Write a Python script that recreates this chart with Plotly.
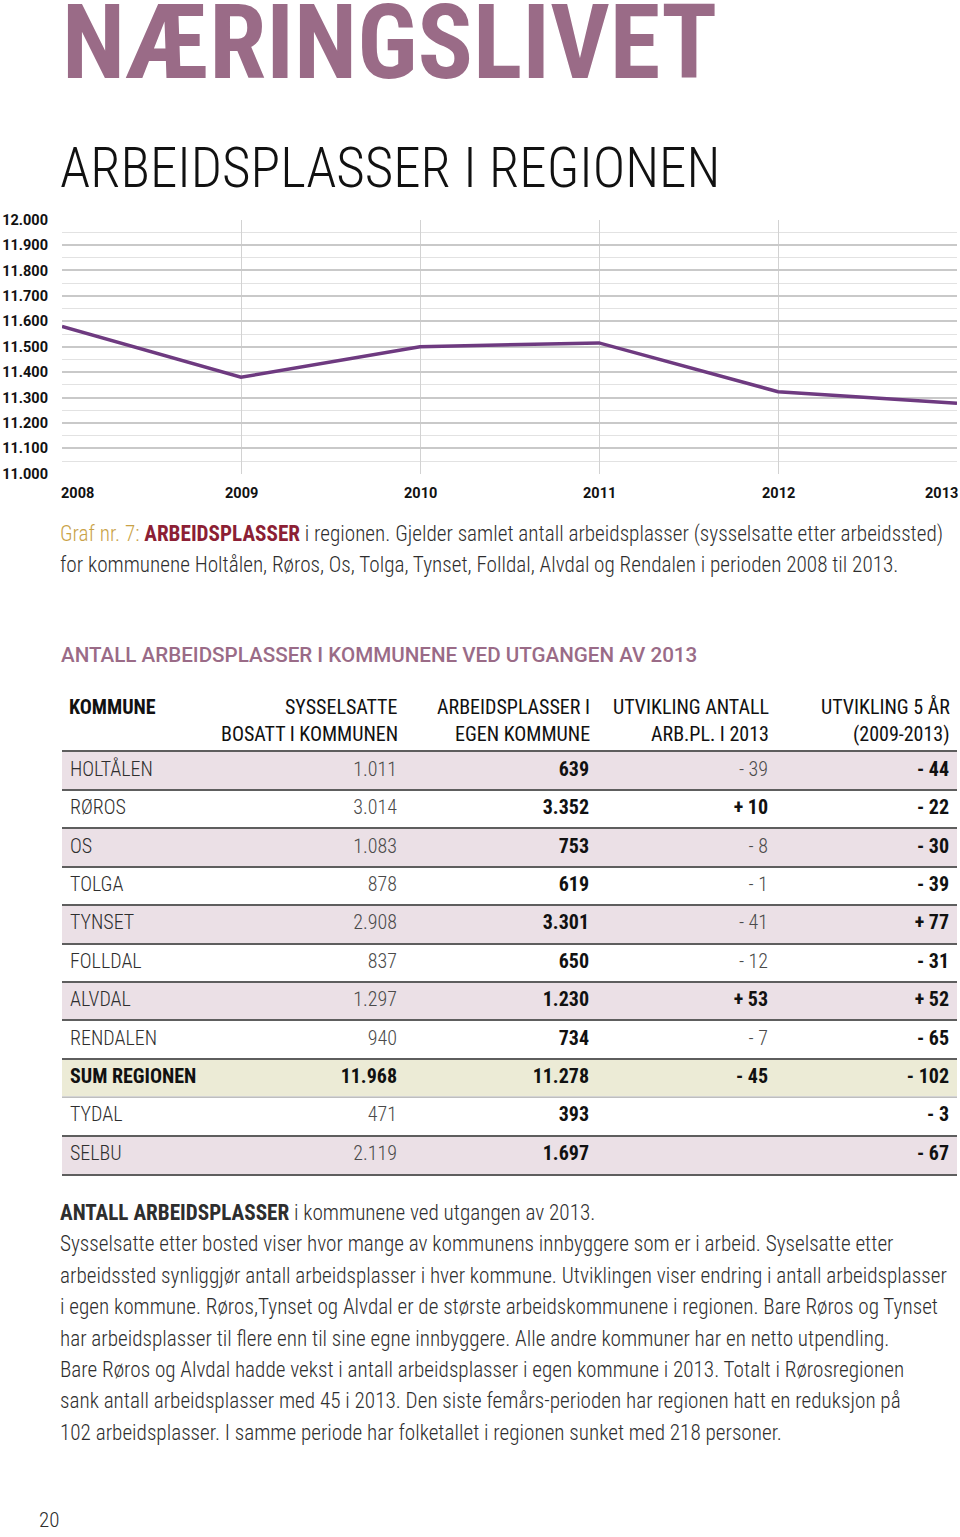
import plotly.graph_objects as go

# ---------------- data ----------------
years = [2008, 2009, 2010, 2011, 2012, 2013]
jobs_region = [11580, 11380, 11500, 11515, 11323, 11278]
y_ticks = [11000, 11100, 11200, 11300, 11400, 11500, 11600, 11700, 11800, 11900, 12000]

kommuner = ["HOLTÅLEN", "RØROS", "OS", "TOLGA", "TYNSET", "FOLLDAL", "ALVDAL",
            "RENDALEN", "SUM REGIONEN", "TYDAL", "SELBU"]
sysselsatte_bosatt = [1011, 3014, 1083, 878, 2908, 837, 1297, 940, 11968, 471, 2119]
arbeidsplasser_egen = [639, 3352, 753, 619, 3301, 650, 1230, 734, 11278, 393, 1697]
utvikling_2013 = [-39, 10, -8, -1, -41, -12, 53, -7, -45, None, None]
utvikling_5aar = [-44, -22, -30, -39, 77, -31, 52, -65, -102, -3, -67]
row_kind = ["pink", "white", "pink", "white", "pink", "white", "pink", "white", "sum", "white", "pink"]

col_headers = [("KOMMUNE", ""), ("SYSSELSATTE", "BOSATT I KOMMUNEN"),
               ("ARBEIDSPLASSER I", "EGEN KOMMUNE"), ("UTVIKLING ANTALL", "ARB.PL. I 2013"),
               ("UTVIKLING 5 ÅR", "(2009-2013)")]

body_lines = [
    "<b>ANTALL ARBEIDSPLASSER</b> i kommunene ved utgangen av 2013.",
    "Sysselsatte etter bosted viser hvor mange av kommunens innbyggere som er i arbeid. Syselsatte etter",
    "arbeidssted synliggjør antall arbeidsplasser i hver kommune. Utviklingen viser endring i antall arbeidsplasser",
    "i egen kommune. Røros,Tynset og Alvdal er de største arbeidskommunene i regionen. Bare Røros og Tynset",
    "har arbeidsplasser til flere enn til sine egne innbyggere. Alle andre kommuner har en netto utpendling.",
    "Bare Røros og Alvdal hadde vekst i antall arbeidsplasser i egen kommune i 2013. Totalt i Rørosregionen",
    "sank antall arbeidsplasser med 45 i 2013. Den siste femårs-perioden har regionen hatt en reduksjon på",
    "102 arbeidsplasser. I samme periode har folketallet i regionen sunket med 218 personer.",
]

# ---------------- styling ----------------
W, H = 960, 1537
COND = "Roboto Condensed"
MAUVE = "#9a6b87"
PURPLE = "#6e3a80"
TXT = "#2e2e2e"
LIGHT_TXT = "#4a4a4a"
ROW_FILL = {"pink": "#ebe0e6", "white": "#ffffff", "sum": "#ecebd6"}
LINE_DARK = "#5e5e5e"


def py(px):
    return 1 - px / H


def px_x(px):
    return px / W


def fmt_num(v):
    return f"{v:,}".replace(",", ".")


def fmt_chg(v):
    if v is None:
        return ""
    return ("+ " if v > 0 else "- ") + str(abs(v))


fig = go.Figure()

# ---------------- line chart ----------------
fig.add_trace(go.Scatter(
    x=years, y=jobs_region, mode="lines",
    line=dict(color=PURPLE, width=3.5),
    xaxis="x", yaxis="y", showlegend=False, hoverinfo="x+y",
))

# ---------------- table ----------------
n = len(kommuner)
rows = list(range(n))
sum_idx = kommuner.index("SUM REGIONEN")

for i, kind in enumerate(row_kind):
    if kind != "white":
        fig.add_shape(type="rect", xref="x2 domain", yref="y2",
                      x0=0, x1=1, y0=i - 0.5, y1=i + 0.5,
                      fillcolor=ROW_FILL[kind], line_width=0, layer="below")

# lighter separator under the sum row
fig.add_shape(type="line", xref="x2 domain", yref="y2", x0=0, x1=1,
              y0=sum_idx + 0.5, y1=sum_idx + 0.5,
              line=dict(color="#ffffff", width=2.2), layer="above")
fig.add_shape(type="line", xref="x2 domain", yref="y2", x0=0, x1=1,
              y0=sum_idx + 0.5, y1=sum_idx + 0.5,
              line=dict(color="#a9a9a9", width=1.2), layer="above")

col_x = [70, 397, 589, 768, 949]


def cell(text, bold):
    return f"<b>{text}</b>" if bold else text


names_txt = [cell(k, i == sum_idx) for i, k in enumerate(kommuner)]
bos_txt = [cell(fmt_num(v), i == sum_idx) for i, v in enumerate(sysselsatte_bosatt)]
egen_txt = [cell(fmt_num(v), True) for v in arbeidsplasser_egen]
u13_txt = [cell(fmt_chg(v), (v is not None and v > 0) or i == sum_idx) for i, v in enumerate(utvikling_2013)]
u5_txt = [cell(fmt_chg(v), True) for v in utvikling_5aar]

name_colors = [("#111111" if i == sum_idx else TXT) for i in rows]
bos_colors = [("#111111" if i == sum_idx else LIGHT_TXT) for i in rows]
u13_colors = [("#111111" if (v is not None and v > 0) or i == sum_idx else LIGHT_TXT)
              for i, v in enumerate(utvikling_2013)]

columns = [
    (names_txt, "middle right", name_colors),
    (bos_txt, "middle left", bos_colors),
    (egen_txt, "middle left", ["#111111"] * n),
    (u13_txt, "middle left", u13_colors),
    (u5_txt, "middle left", ["#111111"] * n),
]
for cx, (txt, pos, colors) in zip(col_x, columns):
    fig.add_trace(go.Scatter(
        x=[cx] * n, y=rows, mode="text", text=txt, textposition=pos,
        textfont=dict(family=COND, size=20, color=colors, weight=300),
        xaxis="x2", yaxis="y2", showlegend=False, hoverinfo="skip", cliponaxis=False,
    ))

# ---------------- annotations ----------------
ann = []
ann.append(dict(text="<b>NÆRINGSLIVET</b>", x=px_x(60), y=py(35), xanchor="left", yanchor="middle",
                font=dict(family=COND, size=103, color=MAUVE)))
ann.append(dict(text="ARBEIDSPLASSER I REGIONEN", x=px_x(58), y=py(162), xanchor="left", yanchor="middle",
                font=dict(family=COND, size=55, color="#111111", weight=300)))

for i, yr in enumerate(years):
    anchor = "left" if i == 0 else ("right" if i == len(years) - 1 else "center")
    ann.append(dict(text=f"<b>{yr}</b>", x=yr, xref="x", y=py(491), yref="paper",
                    xanchor=anchor, yanchor="middle", xshift=(-3 if i == 0 else (3 if i == len(years) - 1 else 0)),
                    font=dict(family="Roboto", size=14.5, color="#111111")))

ann.append(dict(
    text=("<span style='color:#c9a247'>Graf nr. 7: </span>"
          "<span style='color:#8c1f35;font-weight:700'>ARBEIDSPLASSER</span>"
          " i regionen. Gjelder samlet antall arbeidsplasser (sysselsatte etter arbeidssted)"),
    x=px_x(58), y=py(532), xanchor="left", yanchor="middle",
    font=dict(family=COND, size=21.2, color=TXT, weight=300)))
ann.append(dict(
    text="for kommunene Holtålen, Røros, Os, Tolga, Tynset, Folldal, Alvdal og Rendalen i perioden 2008 til 2013.",
    x=px_x(58), y=py(563), xanchor="left", yanchor="middle",
    font=dict(family=COND, size=21.2, color=TXT, weight=300)))

ann.append(dict(text="ANTALL ARBEIDSPLASSER I KOMMUNENE VED UTGANGEN AV 2013",
                x=px_x(59), y=py(654), xanchor="left", yanchor="middle",
                font=dict(family="Roboto", size=20.6, color=MAUVE, weight=500)))

for j, (l1, l2) in enumerate(col_headers):
    if j == 0:
        ann.append(dict(text=f"<b>{l1}</b>", x=px_x(col_x[0]), y=py(707), xanchor="left", yanchor="middle",
                        xshift=-3, font=dict(family=COND, size=20, color="#111111")))
    else:
        for line, ypx in ((l1, 707), (l2, 734)):
            ann.append(dict(text=line, x=px_x(col_x[j]), y=py(ypx), xanchor="right", yanchor="middle",
                            xshift=3, font=dict(family=COND, size=20, color="#111111")))

for k, line in enumerate(body_lines):
    ann.append(dict(text=line, x=px_x(58), y=py(1218 + k * 31.75), xanchor="left", yanchor="middle",
                    font=dict(family=COND, size=21.2, color=TXT, weight=300)))

ann.append(dict(text="20", x=px_x(37), y=py(1528.5), xanchor="left", yanchor="middle",
                font=dict(family=COND, size=21, color=TXT, weight=300)))

for a in ann:
    a.setdefault("xref", "paper")
    a.setdefault("yref", "paper")
    a["showarrow"] = False

fig.update_layout(
    width=W, height=H,
    margin=dict(l=0, r=0, t=0, b=0),
    paper_bgcolor="white", plot_bgcolor="white",
    showlegend=False,
    annotations=ann,
    xaxis=dict(domain=[px_x(62), px_x(957)], range=[years[0], years[-1]],
               tickvals=years, showticklabels=False, ticks="",
               showgrid=True, gridcolor="#d2d2d2", gridwidth=1,
               zeroline=False, showline=False, fixedrange=True),
    yaxis=dict(domain=[py(471), py(214)], range=[y_ticks[0], y_ticks[-1]],
               tickvals=y_ticks, ticktext=[f"<b>{fmt_num(v)}</b>" for v in y_ticks],
               tickfont=dict(family="Roboto", size=14.5, color="#111111"),
               ticks="", ticklabelstandoff=13,
               showgrid=True, gridcolor="#c9c9c9", gridwidth=1.5,
               minor=dict(dtick=50, tick0=11000, showgrid=True, gridcolor="#e2e2e2", gridwidth=1),
               zeroline=False, showline=False, fixedrange=True),
    xaxis2=dict(domain=[px_x(62), px_x(957)], range=[62, 957], showticklabels=False, ticks="",
                showgrid=False, zeroline=False, showline=True, mirror=True,
                linecolor=LINE_DARK, linewidth=2, anchor="y2", fixedrange=True),
    yaxis2=dict(domain=[py(1179), py(752)], range=[n - 0.5, -0.5],
                tickvals=[i - 0.5 for i in range(n + 1)], showticklabels=False, ticks="",
                showgrid=True, gridcolor=LINE_DARK, gridwidth=2,
                zeroline=False, showline=False, anchor="x2", fixedrange=True),
)

fig.write_html("out.html", config={"displayModeBar": False},
               post_script="document.body.style.margin='0';")
